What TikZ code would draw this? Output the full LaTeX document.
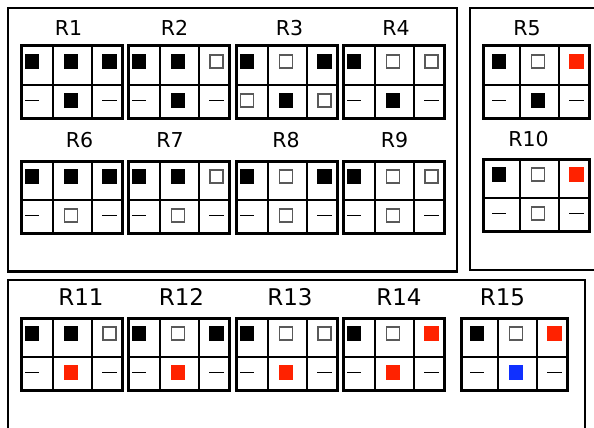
\documentclass[tikz,border=0pt]{standalone}
\usepackage{fontspec}
\setmainfont{DejaVu Sans}

\definecolor{redsq}{RGB}{255,34,0}
\definecolor{bluesq}{RGB}{16,48,255}

\tikzset{
  outer/.style={draw,line width=2.4pt},
  gridbox/.style={draw,line width=3pt},
  gline/.style={line width=2.2pt},
  sym/.style={minimum size=14.5pt,inner sep=0pt},
  blk/.style={sym,fill=black},
  wht/.style={sym,minimum size=13pt,draw=black!65,line width=1.1pt,fill=white},
  rd/.style={sym,fill=redsq},
  bl/.style={sym,fill=bluesq},
  dsh/.style={fill=black,minimum width=14.5pt,minimum height=1.9pt,inner sep=0pt},
  lbl/.style={font=\fontsize{20.5}{22}\selectfont},
  lblb/.style={font=\fontsize{23}{24}\selectfont}
}

% #1 name, #2 x, #3 y (top left), #4 extra width on the left, #5 the six cells
\newcommand{\rgrid}[5]{%
  \draw[gridbox] (#2-#4,#3) rectangle (#2+101,#3+72);
  \draw[gline] (#2-#4,#3+39) -- (#2+101,#3+39);
  \draw[gline] (#2+32,#3) -- (#2+32,#3+72);
  \draw[gline] (#2+71,#3) -- (#2+71,#3+72);
  \foreach \s [count=\i from 0] in {#5}{
    \pgfmathsetmacro\sx{#2+11+38.75*mod(\i,3)}
    \pgfmathsetmacro\sy{#3+15.5+39*int(\i/3)}
    \node[\s] (#1-\i) at (\sx,\sy) {};
  }
}

\begin{document}
\begin{tikzpicture}[x=1pt,y=-1pt]
  \useasboundingbox (0,0) rectangle (594,428);

  % frames
  \draw[outer] (8,8) rectangle (457,271.5);
  \draw[outer] (470,8) rectangle (597,270);
  \draw[outer] (8,280) rectangle (585,432);

  % first row
  \node[lbl] (l1) at (68.5,28) {R1};
  \node[lbl] (l2) at (174.5,28) {R2};
  \node[lbl] (l3) at (289.5,28) {R3};
  \node[lbl] (l4) at (396,28) {R4};
  \node[lbl] (l5) at (527,28) {R5};

  \rgrid{r1}{21}{46}{0}{blk,blk,blk,dsh,blk,dsh}
  \rgrid{r2}{128}{46}{0}{blk,blk,wht,dsh,blk,dsh}
  \rgrid{r3}{236}{46}{0}{blk,wht,blk,wht,blk,wht}
  \rgrid{r4}{343}{46}{0}{blk,wht,wht,dsh,blk,dsh}
  \rgrid{r5}{488}{46}{5}{blk,wht,rd,dsh,blk,dsh}

  % second row
  \node[lbl] (l6) at (79.5,140.5) {R6};
  \node[lbl] (l7) at (170,140.5) {R7};
  \node[lbl] (l8) at (286,140.5) {R8};
  \node[lbl] (l9) at (394.5,140.5) {R9};
  \node[lbl] (l10) at (528.5,139.5) {R10};

  \rgrid{r6}{21}{161}{0}{blk,blk,blk,dsh,wht,dsh}
  \rgrid{r7}{128}{161}{0}{blk,blk,wht,dsh,wht,dsh}
  \rgrid{r8}{236}{161}{0}{blk,wht,blk,dsh,wht,dsh}
  \rgrid{r9}{343}{161}{0}{blk,wht,wht,dsh,wht,dsh}
  \rgrid{r10}{488}{159}{5}{blk,wht,rd,dsh,wht,dsh}

  % third row
  \node[lblb] (l11) at (81,297) {R11};
  \node[lblb] (l12) at (181.5,297) {R12};
  \node[lblb] (l13) at (290,297) {R13};
  \node[lblb] (l14) at (399,297) {R14};
  \node[lblb] (l15) at (502.5,297) {R15};

  \rgrid{r11}{21}{318}{0}{blk,blk,wht,dsh,rd,dsh}
  \rgrid{r12}{128}{318}{0}{blk,wht,blk,dsh,rd,dsh}
  \rgrid{r13}{236}{318}{0}{blk,wht,wht,dsh,rd,dsh}
  \rgrid{r14}{343}{318}{0}{blk,wht,rd,dsh,rd,dsh}
  \rgrid{r15}{466}{318}{5}{blk,wht,rd,dsh,bl,dsh}
\end{tikzpicture}
\end{document}
